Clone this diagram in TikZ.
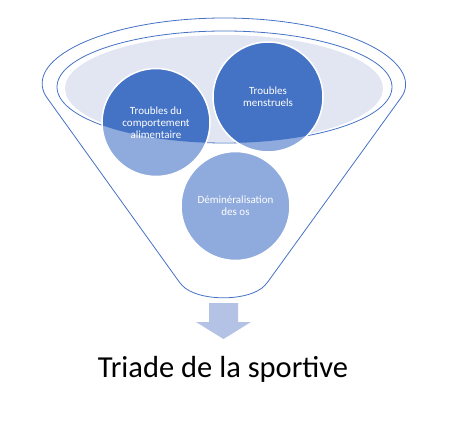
\documentclass[tikz,border=0pt]{standalone}
\usepackage{fontspec}
\setmainfont{Carlito}

\definecolor{fnlBlue}{HTML}{4472C4}
\definecolor{fnlLight}{HTML}{8FAADC}
\definecolor{fnlPale}{HTML}{E2E6F3}
\definecolor{fnlArrow}{HTML}{B4C2E6}

\begin{document}
\begin{tikzpicture}[x=1pt,y=1pt,font=\fontsize{11}{12}\selectfont]
  \useasboundingbox (0,0) rectangle (460,442);
  \tikzset{bubble/.style={circle,draw=white,line width=1.5pt,text=white,align=center,inner sep=0pt}}

  % funnel body
  \draw[fnlBlue,line width=0.8pt,rounded corners=3pt]
    (224,357) ++(188.6:181 and 67) arc[start angle=188.6,end angle=-8.6,x radius=181,y radius=67]
    -- (267,159) .. controls (250,140) and (197,140) .. (180,159) -- cycle;
  \draw[fnlBlue,line width=0.8pt] (224.5,355) ellipse[x radius=167.5,y radius=56];
  \fill[fnlPale] (224,353.5) ellipse[x radius=159,y radius=53.5];

  % circles, light part
  \fill[fnlLight] (156,319.5) circle (54);
  \fill[fnlLight] (268,345) circle (55);
  \fill[fnlLight] (235.5,236) circle (54.5);
  % dark part inside the top
  \begin{scope}
    \clip (224.5,355) ellipse[x radius=167.5,y radius=56];
    \fill[fnlBlue] (156,319.5) circle (54);
    \fill[fnlBlue] (268,345) circle (55);
    \fill[fnlBlue] (235.5,236) circle (54.5);
  \end{scope}

  \node[bubble,minimum size=108pt] (eat) at (156,319.5) {Troubles du\\comportement\\alimentaire};
  \node[bubble,minimum size=110pt] (mens) at (268,345) {Troubles\\menstruels};
  \node[bubble,minimum size=109pt] (bone) at (235.5,236) {Déminéralisation\\des os};

  % block arrow
  \fill[fnlArrow] (209,139) -- (238,139) -- (238,120) -- (251,120) -- (223.5,103)
    -- (196,120) -- (209,120) -- cycle;

  \node[anchor=base,font=\fontsize{30.5}{34}\selectfont] (triad) at (223,65) {Triade de la sportive};
\end{tikzpicture}
\end{document}
